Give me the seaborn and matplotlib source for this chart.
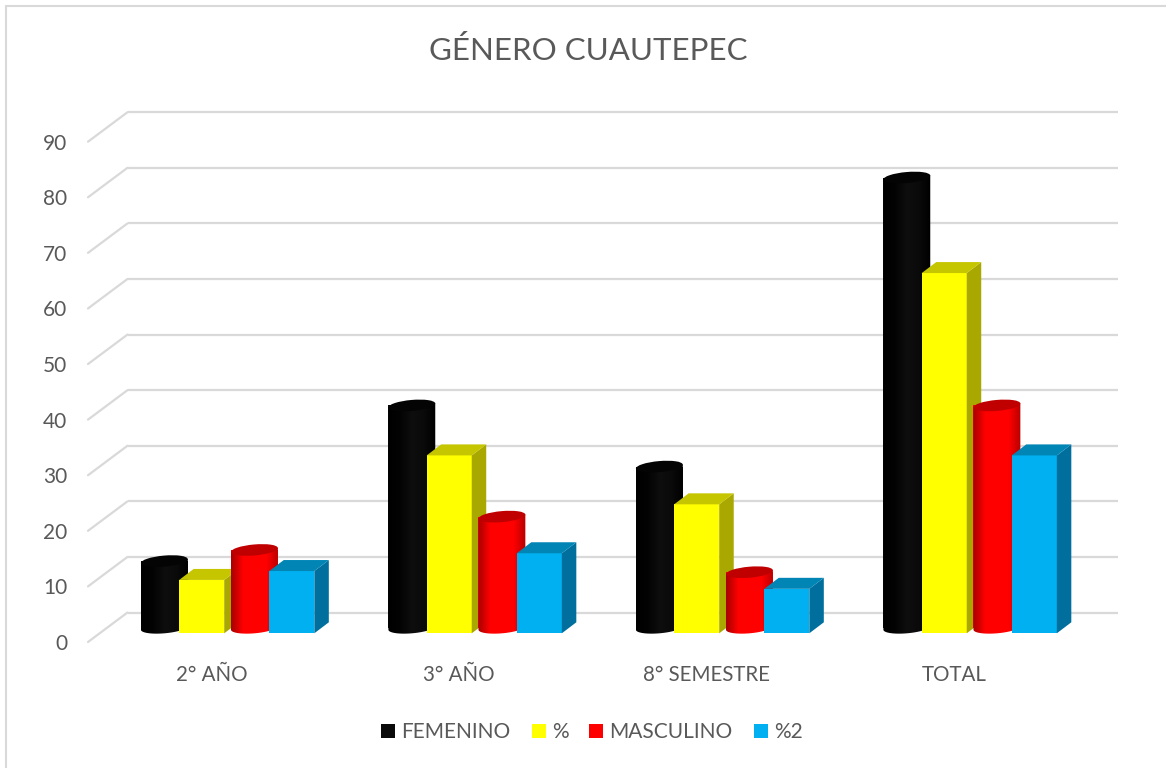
import numpy as np
import pandas as pd
import seaborn as sns
import matplotlib.pyplot as plt
from matplotlib.colors import LinearSegmentedColormap
from matplotlib.lines import Line2D
from matplotlib.patches import Ellipse, Polygon
from matplotlib.transforms import Affine2D, IdentityTransform

# values
categories = ['2° AÑO', '3° AÑO', '8° SEMESTRE', 'TOTAL']
femenino = [12, 40, 29, 81]
pct = [9.6, 32, 23.2, 64.8]
masculino = [14, 20, 10, 40]
pct2 = [11.2, 14.4, 8, 32]
y_ticks = list(range(0, 100, 10))

W, H = 1166, 768
text_col = '#595959'
grid_col = '#d9d9d9'

sns.set_style('white')
plt.rcParams['font.family'] = ['Lato', 'DejaVu Sans']

fig = plt.figure(figsize=(W / 100, H / 100), dpi=100)
# front plane of the 3d box, in pixels from the top left
left, right, top, bottom = 88, 1078, 141.7, 642
ax = fig.add_axes([left / W, 1 - bottom / H, (right - left) / W, (bottom - top) / H])
ax.set_xlim(-0.5, 3.5)
ax.set_ylim(0, 90)

back = ax.transData + Affine2D().translate(39.5, 29.5)
front_shift = Affine2D().translate(10, 8.7)

# back wall and left wall grid
for t in y_ticks:
    ax.plot([-0.5, 3.5], [t, t], color=grid_col, lw=1.6, transform=back, clip_on=False, zorder=1,
            solid_capstyle='butt')
    p0 = ax.transData.transform((-0.5, t))
    p1 = back.transform((-0.5, t))
    ax.plot([p0[0], p1[0]], [p0[1], p1[1]], color=grid_col, lw=1.6, transform=IdentityTransform(),
            clip_on=False, zorder=1)

series = [
    ('FEMENINO', femenino, '#0a0a0a', 'cyl', -0.232, 0.19,
     ['#000000', '#030303', '#0e0e0e', '#0a0a0a', '#000000'], '#040404', None),
    ('%', pct, '#ffff00', 'box', -0.081, 0.182, None, '#c6c600', '#a8a800'),
    ('MASCULINO', masculino, '#ff0000', 'cyl', 0.132, 0.19,
     ['#a80000', '#ff0000', '#ff0000', '#ff0000', '#b80000'], '#c00000', None),
    ('%2', pct2, '#00b0f0', 'box', 0.283, 0.182, None, '#0085b5', '#006f9e'),
]

base = np.arange(len(categories))
for i, (name, vals, col, kind, off, bw, grad, top_col, side_col) in enumerate(series):
    z = 3 + i
    df = pd.DataFrame({'pos': base + off, 'val': vals})
    sns.barplot(data=df, x='pos', y='val', native_scale=True, width=bw, color=col, saturation=1,
                linewidth=0, label=name, ax=ax, zorder=z)
    bars = ax.containers[-1]
    ax.set_xlim(-0.5, 3.5)
    ax.set_ylim(0, 90)
    for bar in bars:
        x0, x1 = bar.get_x(), bar.get_x() + bar.get_width()
        h = bar.get_height()
        bar.set_clip_on(False)
        bar.set_zorder(z)
        if kind == 'box':
            trans = ax.transData + front_shift
            bar.set_transform(trans)
            (px0, py0), (px1, py1) = trans.transform([(x0, 0), (x1, h)])
            dx, dy = 14.5, 11
            ax.add_patch(Polygon([(px1, py0), (px1 + dx, py0 + dy), (px1 + dx, py1 + dy), (px1, py1)],
                                 color=side_col, lw=0, transform=IdentityTransform(), clip_on=False, zorder=z))
            ax.add_patch(Polygon([(px0, py1), (px1, py1), (px1 + dx, py1 + dy), (px0 + dx, py1 + dy)],
                                 color=top_col, lw=0, transform=IdentityTransform(), clip_on=False, zorder=z))
        else:
            # cylinder sits half a depth further back than the box faces
            trans = ax.transData + front_shift + Affine2D().translate(0, 5.5)
            bar.set_transform(trans)
            (px0, py0), (px1, py1) = trans.transform([(x0, 0), (x1, h)])
            cx = (px0 + px1) / 2
            a, b, th = (px1 - px0) / 2, 5.5, np.radians(5)
            tt = np.linspace(np.pi, 2 * np.pi, 40)
            ex = cx + a * np.cos(tt) * np.cos(th) - b * np.sin(tt) * np.sin(th)
            ey = py0 + a * np.cos(tt) * np.sin(th) + b * np.sin(tt) * np.cos(th)
            outline = list(zip(ex, ey)) + [(ex[-1], ey[-1] + py1 - py0), (ex[0], ey[0] + py1 - py0)]
            clip = Polygon(outline, transform=IdentityTransform(), fill=False, lw=0)
            ax.add_patch(clip)
            cmap = LinearSegmentedColormap.from_list(name, grad)
            im = ax.imshow(np.linspace(0, 1, 64)[None, :], cmap=cmap, aspect='auto',
                           extent=(px0, px1, py0 - 10, py1 + 10), transform=IdentityTransform(),
                           zorder=z, interpolation='bilinear')
            im.set_clip_path(clip)
            ax.add_patch(Ellipse((cx, py1), 2 * a, 2 * b, angle=5, color=top_col, lw=0,
                                 transform=IdentityTransform(), clip_on=False, zorder=z))

ax.set_xlim(-0.5, 3.5)
ax.set_ylim(0, 90)
ax.set_aspect('auto')
sns.despine(ax=ax, left=True, bottom=True)
ax.patch.set_alpha(0)
ax.set_xlabel('')
ax.set_ylabel('')
ax.set_xticks(base)
ax.set_xticklabels(categories)
ax.set_yticks(y_ticks)
ax.tick_params(axis='x', length=0, pad=16.5, labelsize=14.8, labelcolor=text_col)
ax.tick_params(axis='y', length=0, pad=15, labelsize=15, labelcolor=text_col)

handles, labels = ax.get_legend_handles_labels()
if ax.get_legend() is not None:
    ax.get_legend().remove()
fig.legend(handles, labels, ncols=4, loc='center', bbox_to_anchor=(592 / W, 1 - 732.5 / H), frameon=False,
           fontsize=15, labelcolor=text_col, handlelength=0.67, handleheight=0.67, handletextpad=0.3,
           columnspacing=1.0)

fig.text(588 / W, 1 - 60.5 / H, 'GÉNERO CUAUTEPEC', fontsize=22.5, color=text_col, ha='center', va='baseline')

# chart frame only shows on the top and left edges
fig.add_artist(Line2D([6 / W, 1], [1 - 6 / H, 1 - 6 / H], color=grid_col, lw=1.5))
fig.add_artist(Line2D([6 / W, 6 / W], [0, 1 - 6 / H], color=grid_col, lw=1.5))

fig.savefig('out.png', dpi=100, facecolor='white')
